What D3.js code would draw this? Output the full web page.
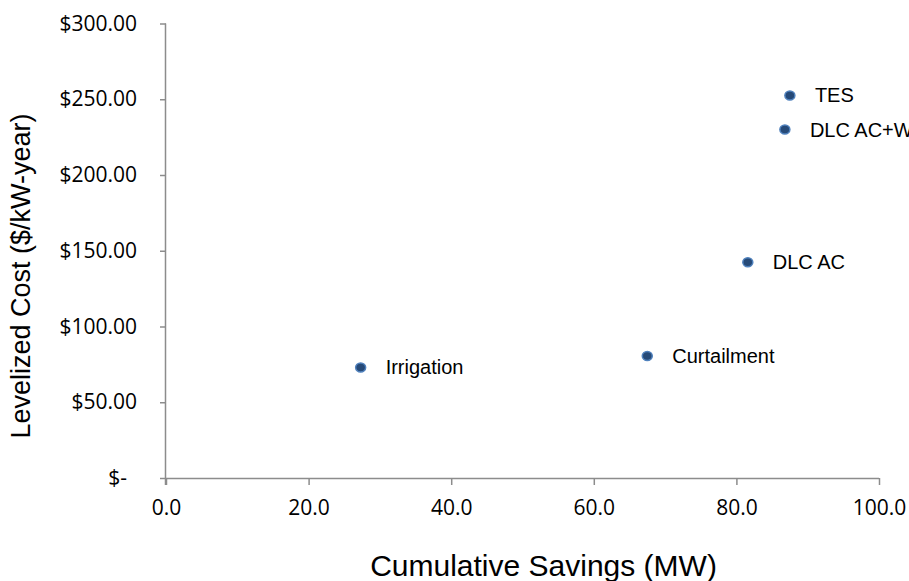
<!DOCTYPE html>
<html>
<head>
<meta charset="utf-8">
<script src="https://cdn.jsdelivr.net/npm/d3@7"></script>
<style>
  body { margin: 0; background: #fff; }
  .tick text { font-family: "Open Sans", sans-serif; font-size: 21px; fill: #000; }
  .label { font-family: "Liberation Sans", Arial, sans-serif; font-size: 20px; fill: #000; }
  .title { font-family: "Liberation Sans", Arial, sans-serif; fill: #000; }
</style>
</head>
<body>
<svg id="chart" width="909" height="581"></svg>
<script>
// DATA
const names = ["Irrigation", "Curtailment", "DLC AC", "DLC AC+W", "TES"];
const savings = [27.3, 67.5, 81.6, 86.8, 87.5];
const costs = [73, 80.6, 142.4, 230, 252.5];
const xTicks = [0, 20, 40, 60, 80, 100];
const yTicks = [0, 50, 100, 150, 200, 250, 300];

// DIMENSIONS
const LEFT = 166, RIGHT = 879, TOP = 23.5, BOTTOM = 478;
const AXIS_COLOR = "#8c8c8c";

const svg = d3.select("#chart");

const x = d3.scaleLinear().domain([0, 100]).range([LEFT, RIGHT]);
const y = d3.scaleLinear().domain([0, 300]).range([BOTTOM, TOP]);

// y axis
const yAxis = svg.append("g")
  .attr("transform", `translate(${LEFT},0)`)
  .call(d3.axisLeft(y)
    .tickValues(yTicks)
    .tickSize(6)
    .tickPadding(23)
    .tickFormat(d => d === 0 ? "$-" : "$" + d3.format(".2f")(d)));
yAxis.selectAll(".tick text")
  .attr("dx", d => d === 0 ? -10 : 0);

// x axis
const xAxis = svg.append("g")
  .attr("transform", `translate(0,${BOTTOM})`)
  .call(d3.axisBottom(x)
    .tickValues(xTicks)
    .tickSize(7)
    .tickPadding(15)
    .tickFormat(d3.format(".1f")));

[xAxis, yAxis].forEach(ax => {
  ax.select(".domain").attr("stroke", AXIS_COLOR).attr("stroke-width", 1.5);
  ax.selectAll(".tick line").attr("stroke", AXIS_COLOR).attr("stroke-width", 1.5);
});
// domain paths include outer ticks; redraw as plain lines
xAxis.select(".domain").attr("d", `M${LEFT},0.5H${RIGHT}`);
yAxis.select(".domain").attr("d", `M-0.5,${TOP}V${BOTTOM + 7}`);

// points
const pts = names.map((n, i) => ({name: n, sx: savings[i], cy: costs[i]}));

svg.append("g")
  .selectAll("ellipse")
  .data(pts)
  .join("ellipse")
  .attr("cx", d => x(d.sx))
  .attr("cy", d => y(d.cy))
  .attr("rx", 5)
  .attr("ry", 4.5)
  .attr("fill", "#264a78")
  .attr("stroke", "#4f81bd")
  .attr("stroke-width", 1.5);

svg.append("g")
  .selectAll("text")
  .data(pts)
  .join("text")
  .attr("class", "label")
  .attr("x", d => x(d.sx) + 25)
  .attr("y", d => y(d.cy) + 7)
  .text(d => d.name);

// axis titles
svg.append("text")
  .attr("class", "title")
  .attr("x", 543.5)
  .attr("y", 576)
  .attr("text-anchor", "middle")
  .style("font-size", "30px")
  .text("Cumulative Savings (MW)");

svg.append("text")
  .attr("class", "title")
  .attr("transform", "translate(29.5,276) rotate(-90)")
  .attr("text-anchor", "middle")
  .style("font-size", "27px")
  .text("Levelized Cost ($/kW-year)");
</script>
</body>
</html>
